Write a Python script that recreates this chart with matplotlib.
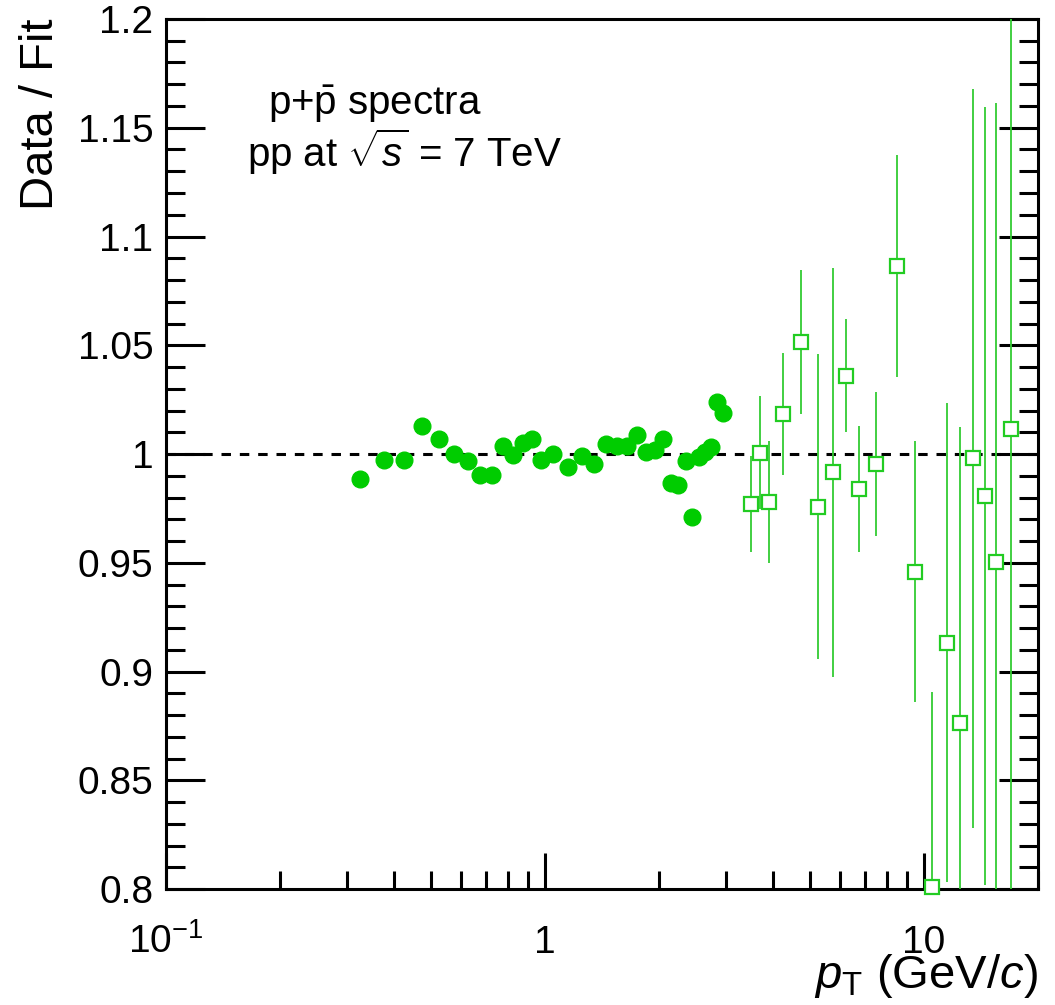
import matplotlib
matplotlib.use("Agg")
import matplotlib.pyplot as plt
from matplotlib.ticker import FixedLocator, NullFormatter, LogLocator, MultipleLocator, FuncFormatter

plt.rcParams['font.family'] = ['Liberation Sans', 'DejaVu Sans']
plt.rcParams['mathtext.fontset'] = 'custom'
plt.rcParams['mathtext.rm'] = 'Liberation Sans'
plt.rcParams['mathtext.it'] = 'Liberation Sans:italic'
plt.rcParams['mathtext.bf'] = 'Liberation Sans:bold'

# filled circles (low pT)
pt_low = [0.325, 0.375, 0.425, 0.475, 0.525, 0.575, 0.625, 0.675, 0.725, 0.775,
          0.825, 0.875, 0.925, 0.975, 1.05, 1.15, 1.25, 1.35, 1.45, 1.55,
          1.65, 1.75, 1.85, 1.95, 2.05, 2.15, 2.25, 2.35, 2.45, 2.55,
          2.65, 2.75, 2.85, 2.95]
ratio_low = [0.9886, 0.9971, 0.9974, 1.0130, 1.0069, 0.9999, 0.9966, 0.9902, 0.9903, 1.0038,
             0.9997, 1.0051, 1.0070, 0.9974, 1.0000, 0.9940, 0.9991, 0.9954, 1.0046, 1.0038,
             1.0038, 1.0089, 1.0011, 1.0020, 1.0070, 0.9865, 0.9857, 0.9966, 0.9712, 0.9986,
             1.0011, 1.0032, 1.0240, 1.0190]

# open squares (high pT) with errors
pt_high = [3.49, 3.70, 3.89, 4.24, 4.74, 5.24, 5.75, 6.23, 6.74, 7.49,
           8.49, 9.47, 10.48, 11.47, 12.47, 13.46, 14.45, 15.48, 16.95]
ratio_high = [0.9769, 1.0006, 0.9779, 1.0185, 1.0516, 0.9758, 0.9916, 1.0360, 0.9839, 0.9953,
              1.0864, 0.9459, 0.8008, 0.9133, 0.8763, 0.9980, 0.9807, 0.9502, 1.0114]
err_high = [0.022, 0.026, 0.028, 0.028, 0.033, 0.070, 0.094, 0.026, 0.029, 0.033,
            0.051, 0.060, 0.090, 0.110, 0.136, 0.170, 0.179, 0.211, 0.250]

xticks = [0.1, 1, 10]
xticklabels = ['$\\mathregular{10^{-1}}$', '1', '10']

fig = plt.figure(figsize=(10.55, 10.05), dpi=100)
ax = fig.add_axes([0.1573, 0.1154, 0.8266, 0.8657])

ax.set_xscale('log')
ax.set_xlim(0.1, 20)
ax.set_ylim(0.8, 1.2)

ax.axhline(1.0, color='black', lw=2.2, ls=(0, (3.1, 2.9)), zorder=1)

ax.plot(pt_low, ratio_low, 'o', color='#00cc00', ms=12, mec='#00cc00', zorder=3)

eb = ax.errorbar(pt_high, ratio_high, yerr=err_high, fmt='s', ms=10.5,
                 mfc='white', mec='#22cc22', mew=1.6, ecolor='#33cc33',
                 elinewidth=1.3, capsize=0, zorder=4)
eb[0].set_clip_on(False)

# axes styling
for s in ax.spines.values():
    s.set_linewidth(2.2)

ax.xaxis.set_major_locator(FixedLocator(xticks))
ax.xaxis.set_minor_locator(LogLocator(base=10, subs=range(2, 10)))
ax.xaxis.set_minor_formatter(NullFormatter())
ax.set_xticklabels(xticklabels)

ax.yaxis.set_major_locator(MultipleLocator(0.05))
ax.yaxis.set_minor_locator(MultipleLocator(0.01))
ax.yaxis.set_major_formatter(FuncFormatter(lambda v, p: f'{v:g}'))

ax.tick_params(axis='both', which='both', direction='in', width=2.2)
ax.tick_params(axis='y', which='both', left=True, right=True)
ax.tick_params(axis='x', which='both', top=False, bottom=True)
ax.tick_params(axis='y', which='major', length=28, pad=9, labelsize=28)
ax.tick_params(axis='y', which='minor', length=14)
ax.tick_params(axis='x', which='major', length=26, pad=46, labelsize=28)
ax.tick_params(axis='x', which='minor', length=13)
for lbl in ax.get_xticklabels():
    lbl.set_va('baseline')

ax.set_ylabel('Data / Fit', fontsize=34, loc='top')
ax.yaxis.set_label_coords(-0.118, 1.0)
ax.set_xlabel('$p_{\\mathregular{T}}$ (GeV/$c$)', fontsize=34, loc='right')
ax.xaxis.set_label_coords(1.0, -0.072)

ax.text(0.117, 0.8897, 'p+$\\mathregular{\\bar{p}}$ spectra', transform=ax.transAxes,
        fontsize=29, ha='left', va='baseline')
ax.text(0.093, 0.830, 'pp at $\\sqrt{s}$ = 7 TeV', transform=ax.transAxes,
        fontsize=29, ha='left', va='baseline')

fig.savefig('out.png', dpi=100)
